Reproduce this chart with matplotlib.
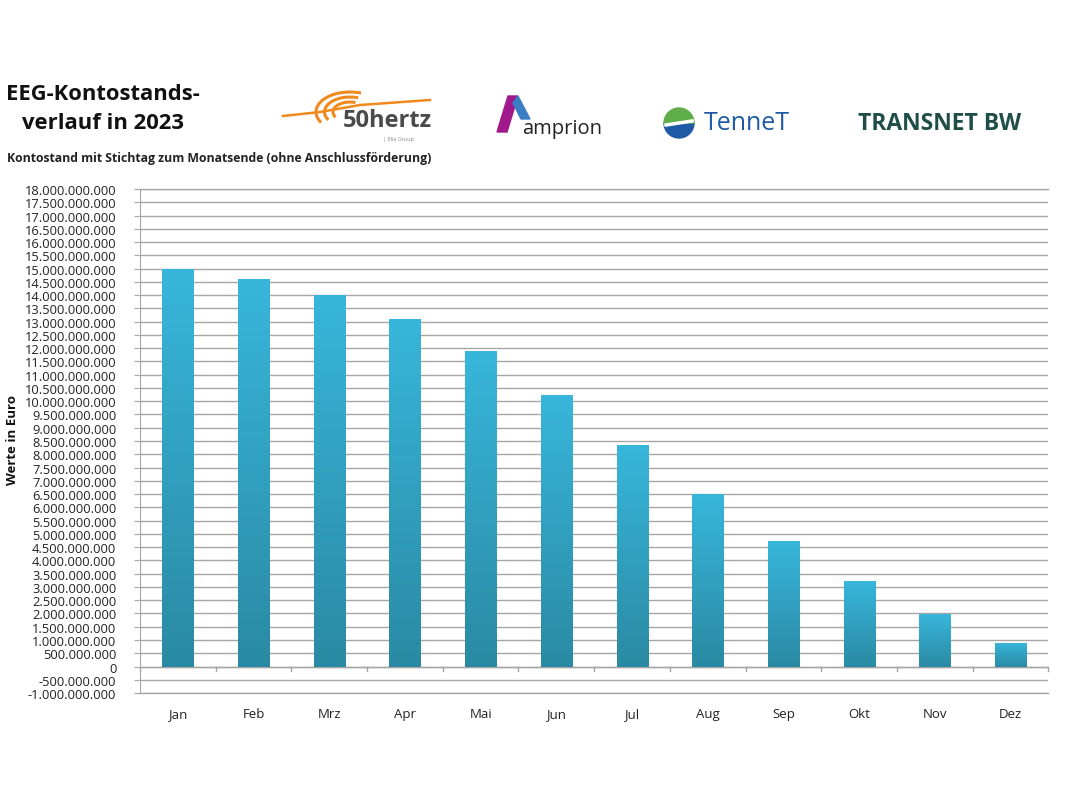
import numpy as np
import matplotlib
matplotlib.use("Agg")
import matplotlib.pyplot as plt
from matplotlib.patches import Polygon, Wedge, Arc
from matplotlib.colors import LinearSegmentedColormap

months = ["Jan", "Feb", "Mrz", "Apr", "Mai", "Jun", "Jul", "Aug", "Sep", "Okt", "Nov", "Dez"]
values = [15.0e9, 14.6e9, 14.0e9, 13.1e9, 11.9e9, 10.25e9, 8.36e9, 6.5e9, 4.73e9, 3.24e9, 1.97e9, 0.89e9]
ytick_vals = np.arange(-1.0e9, 18.0e9 + 1, 0.5e9)

def fmt(v):
    v = int(round(v))
    s = f"{abs(v):,}".replace(",", ".")
    return ("-" if v < 0 else "") + s

plt.rcParams['font.family'] = ['Open Sans', 'DejaVu Sans']

fig = plt.figure(figsize=(10.7, 8.03), dpi=100)
fig.patch.set_facecolor("white")
ax = fig.add_axes([0.1308, 0.1357, 0.849, 0.6277])

x = np.arange(len(months))
bars = ax.bar(x, values, width=0.41, color="#33a9cc", zorder=3)
cmap = LinearSegmentedColormap.from_list("g", ["#2a8aa3", "#38b6db"])
grad = np.linspace(0, 1, 256).reshape(-1, 1)
for b in bars:
    x0, y0 = b.get_x(), b.get_y()
    w, h = b.get_width(), b.get_height()
    im = ax.imshow(grad, cmap=cmap, aspect="auto", origin="lower",
                   extent=(x0, x0 + w, y0, y0 + h), zorder=4)
    im.set_clip_path(b)

ax.set_xlim(-0.5, len(months) - 0.5)
ax.set_ylim(-1.0e9, 18.0e9)
ax.set_yticks(ytick_vals)
ax.set_yticklabels([fmt(v) for v in ytick_vals], fontsize=9.3, color="#222222")
ax.yaxis.grid(True, color="#a6a6a6", linewidth=1.0, zorder=0)
ax.set_axisbelow(True)
ax.tick_params(axis="y", length=4, color="#a6a6a6", pad=13)

ax.set_xticks(x)
ax.set_xticklabels(months, fontsize=9.5, color="#222222")
ax.tick_params(axis="x", length=0, pad=10)
for s in ["top", "right", "bottom"]:
    ax.spines[s].set_visible(False)
ax.spines["left"].set_color("#a6a6a6")
ax.axhline(0, color="#a6a6a6", linewidth=1.0, zorder=2)
ax.axhline(ytick_vals[0], color="#a6a6a6", linewidth=1.0, zorder=2, clip_on=False)
ax.axhline(ytick_vals[-1], color="#a6a6a6", linewidth=1.0, zorder=2, clip_on=False)
for b in np.arange(-0.5, len(months), 1.0):
    ax.plot([b, b], [0, -0.18e9], color="#a6a6a6", linewidth=1.0, clip_on=False, zorder=2)

fig.text(0.006, 0.4525, "Werte in Euro", rotation=90, fontsize=9.5, fontweight="bold",
         va="center", ha="left", color="#111111")

# Title block
fig.text(0.0958, 0.882, "EEG-Kontostands-", fontsize=15.8, fontweight="bold", ha="center", va="center", color="#111111")
fig.text(0.0958, 0.846, "verlauf in 2023", fontsize=15.8, fontweight="bold", ha="center", va="center", color="#111111")
fig.text(0.007, 0.803, "Kontostand mit Stichtag zum Monatsende (ohne Anschlussförderung)",
         fontsize=8.85, fontweight="bold", ha="left", va="center", color="#222222")

# Logos (approximations)
lx = fig.add_axes([0, 0, 1, 1], facecolor="none")
lx.set_xlim(0, 1070); lx.set_ylim(803, 0); lx.axis("off")
# 50hertz
for r, lw in [(20, 2.2), (15, 2.2), (10, 2.2)]:
    lx.add_patch(Arc((350, 113), 2 * r * 1.7, 2 * r, theta1=160, theta2=300, color="#f08a1c", lw=lw))
lx.plot([283, 320, 360, 430], [117, 113, 106, 101], color="#f08a1c", lw=1.8)
lx.text(387, 121, "50hertz", fontsize=17, fontweight="bold", color="#4a4a4a", ha="center", va="center")
lx.text(398, 139, "| Elia Group", fontsize=4, color="#888888", ha="center", va="center")
# amprion
lx.add_patch(Polygon([[497, 133], [508, 97], [518, 97], [507, 133]], closed=True, color="#a0198c"))
lx.add_patch(Polygon([[518, 97], [530, 120], [521, 120], [513, 104]], closed=True, color="#3a7fc4"))
lx.text(562, 129, "amprion", fontsize=14.5, color="#222222", ha="center", va="center")
# TenneT
lx.add_patch(Wedge((679, 124), 15, 0, 180, color="#1f5aa6"))
lx.add_patch(Wedge((679, 124), 15, 180, 360, color="#5fae4a"))
lx.plot([666, 692], [126, 122], color="white", lw=2.5)
lx.text(747, 124, "TenneT", fontsize=18, color="#1f5aa6", ha="center", va="center")
# TransnetBW
lx.text(940, 124, "TRANSNET BW", fontsize=16.5, fontweight="bold", color="#1f4e48", ha="center", va="center")

fig.savefig("out.png", dpi=100)
